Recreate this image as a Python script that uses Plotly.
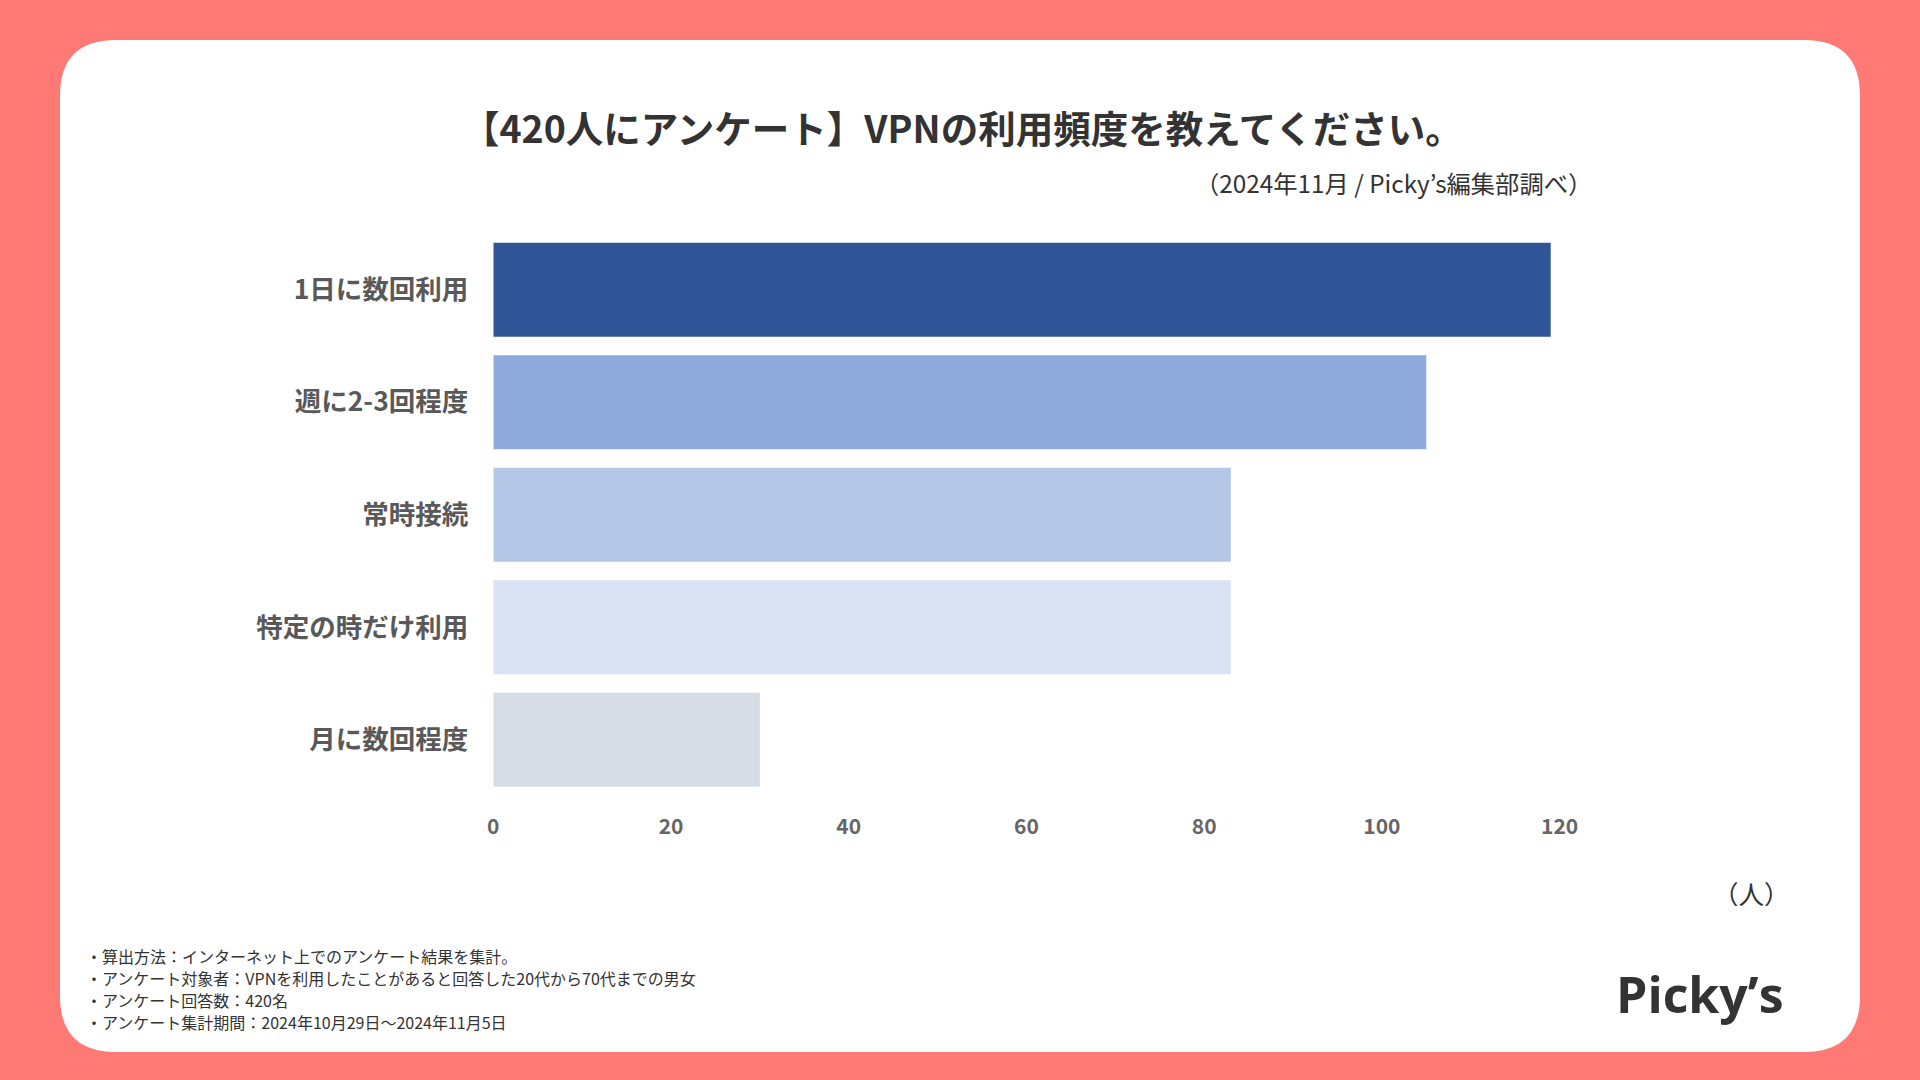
import plotly.graph_objects as go

W, H = 1920, 1080

# survey answers (people), top to bottom
categories = ["1日に数回利用", "週に2-3回程度", "常時接続", "特定の時だけ利用", "月に数回程度"]
counts = [119, 105, 83, 83, 30]
bar_colors = ["#2F5597", "#8FAADC", "#B4C7E7", "#DAE3F3", "#D6DCE5"]
x_ticks = [0, 20, 40, 60, 80, 100, 120]

title_text = "【420人にアンケート】VPNの利用頻度を教えてください。"
source_text = "（2024年11月 / Picky’s編集部調べ）"
unit_text = "（人）"
logo_text = "Picky’s"
notes = [
    "・算出方法：インターネット上でのアンケート結果を集計。",
    "・アンケート対象者：VPNを利用したことがあると回答した20代から70代までの男女",
    "・アンケート回答数：420名",
    "・アンケート集計期間：2024年10月29日～2024年11月5日",
]

JP = "Noto Sans CJK JP"


def px(v):
    return v / W


def py(v):
    return 1 - v / H


def rounded_rect(x0, y0, x1, y1, r):
    # path in paper coords, corners given in pixels
    rx, ry = r / W, r / H
    a, b, c, d = px(x0), py(y0), px(x1), py(y1)
    return (f"M {a+rx},{b} L {c-rx},{b} Q {c},{b} {c},{b-ry} "
            f"L {c},{d+ry} Q {c},{d} {c-rx},{d} L {a+rx},{d} "
            f"Q {a},{d} {a},{d+ry} L {a},{b-ry} Q {a},{b} {a+rx},{b} Z")


fig = go.Figure()
fig.add_bar(
    x=counts,
    y=categories,
    orientation="h",
    marker=dict(color=bar_colors, line=dict(width=0)),
    hoverinfo="x+y",
)

fig.update_layout(
    width=W,
    height=H,
    margin=dict(l=0, r=0, t=0, b=0, autoexpand=False),
    paper_bgcolor="#FF7A74",
    plot_bgcolor="rgba(0,0,0,0)",
    showlegend=False,
    bargap=0.165,
    font=dict(family=JP, color="#333333"),
    xaxis=dict(
        domain=[px(493.3), px(1559.6)],
        range=[0, 120],
        tickvals=x_ticks,
        showgrid=False,
        zeroline=False,
        showline=False,
        ticks="",
        ticklabelstandoff=16,
        tickfont=dict(family=JP, size=21, color="#666666", weight="bold"),
        fixedrange=True,
    ),
    yaxis=dict(
        domain=[py(796), py(233.4)],
        autorange="reversed",
        showgrid=False,
        zeroline=False,
        showline=False,
        ticks="",
        ticklabelstandoff=24,
        tickfont=dict(family=JP, size=26.5, color="#595959", weight="bold"),
        fixedrange=True,
    ),
    shapes=[
        dict(type="path", xref="paper", yref="paper", layer="below",
             path=rounded_rect(60, 40, 1860, 1052, 56),
             fillcolor="#FFFFFF", line=dict(width=0)),
    ],
)

fig.add_annotation(
    text=title_text, xref="paper", yref="paper", x=px(962), y=py(126),
    xanchor="center", yanchor="middle", showarrow=False,
    font=dict(family=JP, size=37.5, color="#333333", weight="bold"),
)
fig.add_annotation(
    text=source_text, xref="paper", yref="paper", x=px(1594), y=py(182),
    xanchor="right", yanchor="middle", showarrow=False,
    font=dict(family=JP, size=24.3, color="#333333"),
)
fig.add_annotation(
    text=unit_text, xref="paper", yref="paper", x=px(1751), y=py(892),
    xanchor="center", yanchor="middle", showarrow=False,
    font=dict(family=JP, size=25.5, color="#333333"),
)
# footnotes, one annotation per line to keep the reference line pitch
for i, line in enumerate(notes):
    fig.add_annotation(
        text=line, xref="paper", yref="paper", x=px(84), y=py(956 + 22 * i),
        xanchor="left", yanchor="middle", align="left", showarrow=False,
        font=dict(family=JP, size=16, color="#333333"),
    )
fig.add_annotation(
    text=logo_text, xref="paper", yref="paper", x=px(1700), y=py(994),
    xanchor="center", yanchor="middle", showarrow=False,
    font=dict(family="Open Sans", size=50, color="#333333", weight="bold"),
)

# drop the default page margin so the figure fills the window exactly
fig.write_html(
    "out.html",
    config={"displayModeBar": False},
    post_script="document.body.style.margin='0';document.body.style.overflow='hidden';",
)
